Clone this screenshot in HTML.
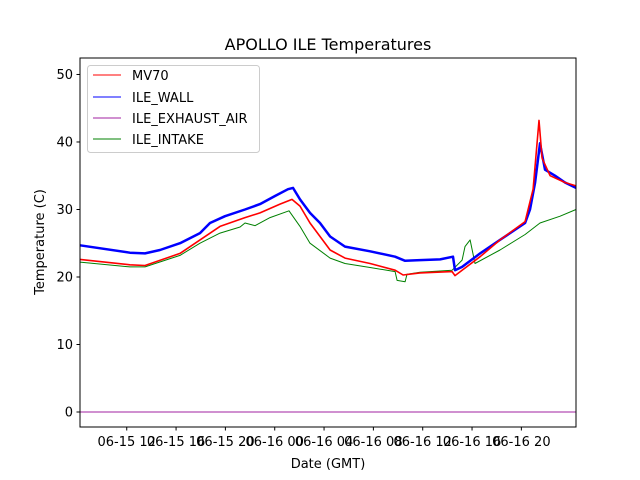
<!DOCTYPE html>
<html><head><meta charset="utf-8"><style>
body{margin:0;background:#fff;}
svg{display:block;font-family:"DejaVu Sans","Liberation Sans",sans-serif;}
</style></head><body>
<svg id="chart" width="640" height="480">
<rect width="640" height="480" fill="#fff"/>
<text x="328" y="50" text-anchor="middle" font-size="16">APOLLO ILE Temperatures</text>
<g id="series"></g>
<g id="yticks"></g>
<g id="xticks"></g>
<rect x="80" y="58" width="496" height="369" fill="none" stroke="#000" stroke-width="1"/>
<text x="328" y="468" text-anchor="middle" font-size="13">Date (GMT)</text>
<text transform="translate(44,242) rotate(-90)" text-anchor="middle" font-size="13">Temperature (C)</text>
<g>
<rect x="87.5" y="65.5" width="172" height="87" rx="3" fill="#fff" fill-opacity="0.8" stroke="#ccc"/>
<g><line x1="93" x2="121" y1="75" y2="75" stroke="red"/><text x="132" y="80" font-size="13">MV70</text></g>
<g><line x1="93" x2="121" y1="97" y2="97" stroke="blue"/><text x="132" y="102" font-size="13">ILE_WALL</text></g>
<g><line x1="93" x2="121" y1="118" y2="118" stroke="#a020a0"/><text x="132" y="123" font-size="13">ILE_EXHAUST_AIR</text></g>
<g><line x1="93" x2="121" y1="139" y2="139" stroke="green"/><text x="132" y="144" font-size="13">ILE_INTAKE</text></g>
</g>
</svg>
<script>
// hours since 06-15 00:00 GMT
const wallHours=[8.21,12.26,13.48,14.7,16.32,17.94,18.75,19.97,21.59,22.81,24.02,25.08,25.48,26.05,26.86,27.67,28.49,29.7,31.73,33.76,34.57,35.78,37.41,38.46,38.62,39.19,40.65,42.27,44.3,44.7,45.11,45.51,45.92,46.73,47.54,48.43];
const wallTemps=[24.7,23.6,23.5,24.0,25.0,26.5,28.0,29.0,30.0,30.8,32.0,33.0,33.2,31.5,29.5,28.0,26.0,24.5,23.8,23.0,22.4,22.5,22.6,23.0,21.0,21.5,23.5,25.5,28.0,30.0,34.0,39.8,35.9,35.0,34.0,33.2];
const mv70Hours=[8.21,12.26,13.48,16.32,17.94,19.56,21.59,22.81,24.43,25.4,26.05,26.86,28.49,29.7,31.73,33.76,34.41,35.78,38.38,38.62,39.19,40.65,42.27,44.3,44.95,45.43,45.68,46.33,47.54,48.43];
const mv70Temps=[22.6,21.8,21.7,23.5,25.5,27.5,28.8,29.5,30.8,31.5,30.5,28.0,24.0,22.8,22.0,21.0,20.3,20.6,20.8,20.2,21.0,23.0,25.5,28.2,33.0,43.2,37.6,35.0,34.0,33.5];
const intakeHours=[8.21,12.26,13.48,16.32,17.94,19.56,21.19,21.59,22.4,23.62,25.16,26.05,26.86,28.49,29.7,31.73,33.76,33.92,34.57,34.73,35.78,38.38,39.19,39.43,39.84,40.24,42.27,44.3,45.51,47.14,48.43];
const intakeTemps=[22.2,21.5,21.5,23.2,25.0,26.5,27.4,28.0,27.6,28.8,29.8,27.5,25.0,22.8,22.0,21.4,20.8,19.5,19.3,20.4,20.7,21.0,22.5,24.5,25.5,22.0,24.0,26.3,28.0,29.0,30.0];
const exhaustHours=[8.21,48.43];
const exhaustTemps=[0,0];
const yTickValues=[0,10,20,30,40,50];
const xTickHours=[12,16,20,24,28,32,36,40,44];
const xTickLabels=["06-15 12","06-15 16","06-15 20","06-16 00","06-16 04","06-16 08","06-16 12","06-16 16","06-16 20"];

const X0=80,X1=576,Y0=427,Y1=58,HMIN=8.21,HMAX=48.43,TMIN=-2.22,TMAX=52.44;
const xs=h=>X0+(h-HMIN)/(HMAX-HMIN)*(X1-X0);
const ys=t=>Y0-(t-TMIN)/(TMAX-TMIN)*(Y0-Y1);
const NS="http://www.w3.org/2000/svg";
const sg=document.getElementById('series');
function line(hs,ts,color,w,name,crisp){
  const p=document.createElementNS(NS,'polyline');
  p.setAttribute('points',hs.map((h,i)=>xs(h).toFixed(1)+','+ys(ts[i]).toFixed(1)).join(' '));
  p.setAttribute('fill','none');p.setAttribute('stroke',color);p.setAttribute('stroke-width',w);
  p.setAttribute('stroke-linejoin','round');
  if(crisp)p.setAttribute('shape-rendering','crispEdges');
  
  
  sg.appendChild(p);
}
line(intakeHours,intakeTemps,'green',1,'series-ile-intake');
line(wallHours,wallTemps,'blue',2.5,'series-ile-wall');
line(mv70Hours,mv70Temps,'red',1.6,'series-mv70');
line(exhaustHours,exhaustTemps,'#a020a0',1,'series-ile-exhaust-air',true);

const yg=document.getElementById('yticks');
yTickValues.forEach(v=>{
  const y=ys(v);
  const l=document.createElementNS(NS,'line');
  l.setAttribute('x1',X0-3.5);l.setAttribute('x2',X0);l.setAttribute('y1',y);l.setAttribute('y2',y);l.setAttribute('stroke','#000');
  
  
  yg.appendChild(l);
  const t=document.createElementNS(NS,'text');
  t.setAttribute('x',X0-7);t.setAttribute('y',y+4.5);t.setAttribute('text-anchor','end');t.setAttribute('font-size','13');
  t.textContent=v;
  
  
  yg.appendChild(t);
});
const xg=document.getElementById('xticks');
xTickHours.forEach((h,i)=>{
  const x=xs(h);
  const l=document.createElementNS(NS,'line');
  l.setAttribute('x1',x);l.setAttribute('x2',x);l.setAttribute('y1',Y0);l.setAttribute('y2',Y0+3.5);l.setAttribute('stroke','#000');
  
  
  xg.appendChild(l);
  const t=document.createElementNS(NS,'text');
  t.setAttribute('x',x);t.setAttribute('y',Y0+19);t.setAttribute('text-anchor','middle');t.setAttribute('font-size','13');
  t.textContent=xTickLabels[i];
  
  
  xg.appendChild(t);
});
</script>
</body></html>
